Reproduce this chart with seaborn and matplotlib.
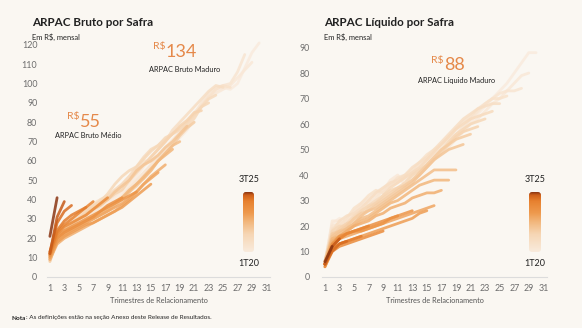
import numpy as np
import pandas as pd
import matplotlib
matplotlib.use("Agg")
import matplotlib.pyplot as plt
import seaborn as sns
from matplotlib.colors import LinearSegmentedColormap
from matplotlib.patches import FancyBboxPatch

# ---------------- data ----------------
safras = ["1T20", "2T20", "3T20", "4T20", "1T21", "2T21", "3T21", "4T21",
          "1T22", "2T22", "3T22", "4T22", "1T23", "2T23", "3T23", "4T23",
          "1T24", "2T24", "3T24", "4T24", "1T25", "2T25", "3T25"]

# ARPAC Bruto (R$ mensal) per safra, by trimestre de relacionamento 1..n
bruto_1T20 = [9, 22, 25, 27, 29, 31, 33, 36, 38, 41, 44, 48, 52, 57, 61, 60, 64, 68, 72, 76, 82, 88, 93, 96, 98, 97, 100, 108, 116, 121]
bruto_2T20 = [10, 24, 27, 29, 31, 33, 34, 37, 40, 42, 45, 49, 54, 58, 60, 63, 67, 71, 75, 80, 85, 89, 93, 95, 97, 99, 103, 107, 111]
bruto_3T20 = [8, 21, 24, 26, 29, 31, 33, 35, 37, 39, 42, 46, 50, 54, 58, 62, 66, 70, 74, 79, 84, 90, 95, 98, 99, 100, 106, 115]
bruto_4T20 = [9, 25, 28, 30, 33, 35, 38, 40, 42, 45, 48, 52, 56, 60, 60, 62, 66, 70, 74, 78, 83, 88, 93, 97, 99, 98]
bruto_1T21 = [11, 23, 26, 29, 32, 34, 36, 40, 42, 44, 47, 51, 55, 58, 62, 66, 70, 76, 80, 84, 88, 92, 96, 99, 98]
bruto_2T21 = [10, 22, 25, 28, 30, 33, 36, 38, 41, 45, 48, 52, 57, 62, 66, 68, 71, 74, 76, 78, 82, 88, 92, 94]
bruto_3T21 = [9, 20, 24, 27, 30, 34, 37, 39, 43, 48, 52, 55, 57, 61, 65, 68, 72, 74, 77, 80, 84, 88, 90]
bruto_4T21 = [10, 21, 25, 28, 30, 33, 35, 38, 40, 43, 45, 50, 54, 58, 62, 66, 70, 74, 78, 81, 85, 86]
bruto_1T22 = [8, 19, 22, 25, 27, 29, 31, 33, 36, 38, 41, 44, 47, 51, 55, 60, 64, 68, 73, 77, 80]
bruto_2T22 = [11, 21, 24, 27, 30, 32, 35, 37, 40, 44, 47, 50, 55, 58, 60, 63, 67, 70, 74, 78]
bruto_3T22 = [9, 18, 21, 24, 26, 28, 30, 32, 34, 37, 40, 44, 48, 51, 55, 60, 64, 68, 70]
bruto_4T22 = [10, 20, 23, 25, 27, 29, 31, 33, 35, 38, 41, 45, 48, 52, 56, 60, 63, 66]
bruto_1T23 = [9, 17, 20, 22, 24, 26, 28, 30, 32, 34, 37, 40, 44, 48, 52, 55, 58]
bruto_2T23 = [11, 19, 22, 24, 26, 28, 30, 32, 34, 36, 38, 41, 44, 48, 51, 54]
bruto_3T23 = [10, 18, 21, 23, 25, 27, 28, 30, 32, 34, 36, 39, 42, 45, 48]
bruto_4T23 = [12, 21, 24, 26, 28, 30, 32, 34, 36, 38, 40, 42, 44]
bruto_1T24 = [11, 20, 23, 25, 27, 29, 31, 34, 37, 39, 41]
bruto_2T24 = [12, 22, 26, 28, 30, 32, 35, 38, 41]
bruto_3T24 = [13, 23, 27, 30, 33, 36, 39]
bruto_4T24 = [12, 24, 29, 32, 34, 36]
bruto_1T25 = [13, 28, 34, 37]
bruto_2T25 = [12, 31, 39]
bruto_3T25 = [21, 41]

# ARPAC Liquido (R$ mensal)
liq_1T20 = [6, 21, 23, 22, 24, 28, 30, 33, 35, 37, 39, 38, 40, 43, 46, 48, 50, 52, 55, 58, 61, 64, 67, 70, 73, 76, 80, 84, 88, 88]
liq_2T20 = [5, 22, 22, 20, 25, 29, 31, 32, 34, 38, 40, 36, 39, 42, 45, 47, 49, 51, 54, 57, 60, 62, 65, 68, 70, 73, 76, 79, 80]
liq_3T20 = [6, 20, 21, 22, 26, 28, 29, 31, 34, 36, 37, 39, 41, 44, 46, 49, 52, 54, 56, 59, 62, 65, 68, 70, 72, 73, 73, 74]
liq_4T20 = [5, 19, 20, 23, 27, 29, 32, 34, 33, 36, 39, 40, 42, 45, 48, 50, 52, 55, 58, 61, 63, 66, 68, 70, 70, 71]
liq_1T21 = [6, 18, 22, 24, 25, 27, 30, 33, 35, 37, 38, 40, 43, 45, 47, 50, 53, 56, 59, 62, 64, 66, 67, 68, 68]
liq_2T21 = [5, 17, 19, 21, 24, 26, 28, 30, 32, 35, 37, 39, 41, 43, 46, 49, 52, 55, 58, 60, 62, 63, 64, 65]
liq_3T21 = [6, 18, 20, 20, 23, 26, 28, 29, 32, 34, 35, 37, 40, 42, 44, 47, 50, 53, 56, 58, 60, 61, 62]
liq_4T21 = [5, 16, 19, 21, 22, 24, 27, 29, 31, 33, 35, 36, 38, 40, 43, 46, 49, 52, 55, 57, 58, 59]
liq_1T22 = [6, 17, 18, 20, 23, 25, 26, 28, 30, 32, 34, 36, 38, 41, 44, 47, 50, 52, 54, 55, 56]
liq_2T22 = [5, 16, 18, 19, 21, 24, 26, 27, 29, 31, 33, 35, 37, 40, 43, 46, 48, 50, 51, 52]
liq_3T22 = [5, 15, 17, 19, 21, 23, 24, 26, 28, 30, 32, 34, 36, 38, 40, 42, 42, 42, 42]
liq_4T22 = [6, 15, 16, 18, 20, 22, 23, 25, 27, 29, 30, 32, 34, 36, 37, 38, 38, 38]
liq_1T23 = [5, 14, 16, 18, 20, 21, 22, 24, 25, 27, 28, 29, 31, 32, 33, 33, 34]
liq_2T23 = [5, 13, 15, 16, 17, 18, 19, 20, 21, 22, 23, 24, 25, 26, 27, 28]
liq_3T23 = [4, 11, 13, 14, 15, 16, 17, 18, 19, 20, 21, 22, 23, 25, 26]
liq_4T23 = [5, 12, 15, 17, 18, 18, 19, 20, 21, 23, 24, 25, 26]
liq_1T24 = [5, 13, 16, 17, 18, 19, 20, 21, 22, 23, 24]
liq_2T24 = [4, 10, 12, 13, 14, 15, 16, 17, 18]
liq_3T24 = [5, 12, 15, 17, 18, 19, 20]
liq_4T24 = [5, 11, 13, 14, 15, 16]
liq_1T25 = [5, 10, 13, 14]
liq_2T25 = [5, 12, 15]
liq_3T25 = [6, 12]

bruto_series = [bruto_1T20, bruto_2T20, bruto_3T20, bruto_4T20, bruto_1T21, bruto_2T21,
                bruto_3T21, bruto_4T21, bruto_1T22, bruto_2T22, bruto_3T22, bruto_4T22,
                bruto_1T23, bruto_2T23, bruto_3T23, bruto_4T23, bruto_1T24, bruto_2T24,
                bruto_3T24, bruto_4T24, bruto_1T25, bruto_2T25, bruto_3T25]
liq_series = [liq_1T20, liq_2T20, liq_3T20, liq_4T20, liq_1T21, liq_2T21,
              liq_3T21, liq_4T21, liq_1T22, liq_2T22, liq_3T22, liq_4T22,
              liq_1T23, liq_2T23, liq_3T23, liq_4T23, liq_1T24, liq_2T24,
              liq_3T24, liq_4T24, liq_1T25, liq_2T25, liq_3T25]

x_ticks = list(range(1, 32, 2))
bruto_yticks = [0, 10, 20, 30, 40, 50, 60, 70, 80, 90, 100, 110, 120]
liq_yticks = [0, 10, 20, 30, 40, 50, 60, 70, 80, 90]


def to_long(series):
    rows = []
    for name, vals in zip(safras, series):
        for t, v in enumerate(vals, start=1):
            rows.append((name, t, v))
    return pd.DataFrame(rows, columns=["safra", "tri", "valor"])


# ---------------- style ----------------
BG = "#faf7f2"
ORANGE = "#e5894a"
DARK = "#222222"
GRAY = "#6d6d6d"
sns.set_theme(style="white")
plt.rcParams["font.family"] = ["Lato", "DejaVu Sans"]

cmap = LinearSegmentedColormap.from_list(
    "safra", [(0.0, "#f9ebdd"), (0.3, "#f6d6b4"), (0.5, "#f2b77d"),
              (0.65, "#ee9a4e"), (0.85, "#e7812f"), (0.95, "#cf601a"), (1.0, "#8a3512")])
palette = [cmap(i / (len(safras) - 1)) for i in range(len(safras))]

W, H = 582, 328
fig = plt.figure(figsize=(W / 100, H / 100), dpi=100, facecolor=BG)


def fx(px):
    return px / W


def fy(py):
    return 1 - py / H


def panel(series, rect, ylim, yticks, ylabelpad):
    ax = fig.add_axes(rect)
    ax.set_facecolor(BG)
    df = to_long(series)
    sns.lineplot(data=df, x="tri", y="valor", hue="safra", hue_order=safras,
                 palette=palette, legend=False, linewidth=2.0, alpha=0.85,
                 ax=ax, sort=True, estimator=None)
    for ln in ax.lines:
        ln.set_solid_capstyle("round")
        ln.set_solid_joinstyle("round")
    ax.set_xlim(0.6, 31.5)
    ax.set_ylim(*ylim)
    ax.set_xticks(x_ticks)
    ax.set_yticks(yticks)
    ax.tick_params(axis="both", length=0, labelsize=6.4, colors=GRAY)
    ax.tick_params(axis="x", pad=5)
    ax.tick_params(axis="y", pad=ylabelpad)
    for s in ["top", "right", "left"]:
        ax.spines[s].set_visible(False)
    ax.spines["bottom"].set_color("#dcdcdc")
    ax.spines["bottom"].set_linewidth(0.8)
    ax.set_xlabel("Trimestres de Relacionamento", fontsize=5.3, color="#555555", labelpad=3)
    ax.set_ylabel("")
    return ax


ax1 = panel(bruto_series, [fx(47), fy(277), fx(270) - fx(47), fy(41) - fy(277)],
            (0, 122), bruto_yticks, 7)
ax2 = panel(liq_series, [fx(322), fy(277), fx(547) - fx(322), fy(45) - fy(277)],
            (0, 91), liq_yticks, 9)


def colorbar(x0, x1, y0, y1, lx):
    cax = fig.add_axes([fx(x0), fy(y1), fx(x1) - fx(x0), fy(y0) - fy(y1)])
    cax.set_axis_off()
    grad = np.linspace(0, 1, 256).reshape(-1, 1)
    im = cax.imshow(grad, cmap=cmap, aspect="auto", origin="lower",
                    extent=[0, 1, 0, 1])
    patch = FancyBboxPatch((0, 0), 1, 1, boxstyle="round,pad=0,rounding_size=0.25",
                           transform=cax.transAxes, facecolor="none", edgecolor="none",
                           mutation_aspect=0.2)
    cax.add_patch(patch)
    im.set_clip_path(patch)
    fig.text(fx(lx), fy(180), "3T25", ha="center", va="center", fontsize=6.5, color=DARK)
    fig.text(fx(lx), fy(264), "1T20", ha="center", va="center", fontsize=6.5, color=DARK)


colorbar(243, 254, 192, 252, 249)
colorbar(529, 541, 192, 252, 535)

# titles
fig.text(fx(32), fy(23), "ARPAC Bruto por Safra", ha="left", va="center",
         fontsize=8.4, fontweight="bold", color=DARK)
fig.text(fx(32), fy(37), "Em R$, mensal", ha="left", va="center", fontsize=5.4, color=DARK)
fig.text(fx(324), fy(23), "ARPAC Líquido por Safra", ha="left", va="center",
         fontsize=8.4, fontweight="bold", color=DARK)
fig.text(fx(324), fy(37), "Em R$, mensal", ha="left", va="center", fontsize=5.4, color=DARK)


# highlight annotations
def big_value(xnum, ynum, txt, label, lxc, ly):
    fig.text(fx(xnum), fy(ynum), txt, ha="left", va="center", fontsize=13,
             color=ORANGE, fontweight="normal")
    fig.text(fx(xnum), fy(ynum - 5), "R$", ha="right", va="center", fontsize=7.5,
             color=ORANGE)
    fig.text(fx(lxc), fy(ly), label, ha="center", va="center", fontsize=5.3, color=DARK)


big_value(166, 52, "134", "ARPAC Bruto Maduro", 185, 70)
big_value(80, 122, "55", "ARPAC Bruto Médio", 88, 136)
big_value(444, 65, "88", "ARPAC Líquido Maduro", 457, 81)

# note: bold "Nota" followed by the rest of the sentence
nota = fig.text(fx(12), fy(318), "Nota", ha="left", va="center", fontsize=4.6,
                fontweight="bold", color=DARK)
fig.canvas.draw()
bb = nota.get_window_extent(renderer=fig.canvas.get_renderer())
fig.text(bb.x1 / W, fy(318), ": As definições estão na seção Anexo deste Release de Resultados.",
         ha="left", va="center", fontsize=4.6, color=DARK)

fig.savefig("out.png", dpi=100, facecolor=BG)
